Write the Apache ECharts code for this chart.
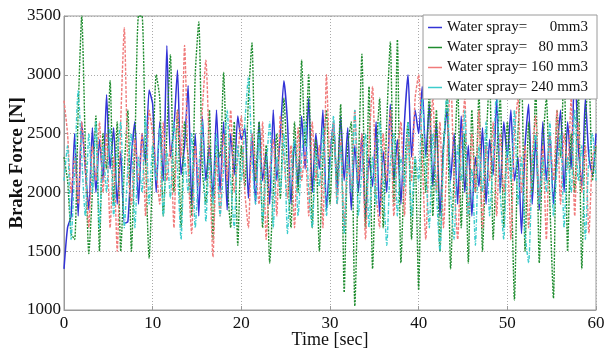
<!DOCTYPE html>
<html>
<head>
<meta charset="utf-8">
<script src="https://cdn.jsdelivr.net/npm/echarts@6/dist/echarts.min.js"></script>
<style>html,body{margin:0;padding:0;background:#fff}#c{width:605px;height:351px}</style>
</head>
<body>
<div id="c"></div>
<script>
const seriesNames = ['Water spray=      0mm3', 'Water spray=   80 mm3', 'Water spray= 160 mm3', 'Water spray= 240 mm3'];
const xTicks = [0, 10, 20, 30, 40, 50, 60];
const yTicks = [1000, 1500, 2000, 2500, 3000, 3500];
const sampleStep = 0.4;

const spray0 = [1350,1700,1800,2500,1800,2600,2200,1850,2550,2000,2450,2100,2830,2200,2550,1900,2350,1740,1750,2300,2600,1900,2500,2250,2870,
2750,2000,2600,2100,3250,2300,2550,3040,2150,2400,2910,1900,2500,1800,2650,2100,2400,1950,2700,2000,2600,1850,2500,2150,2650,
2450,2550,1950,2500,1900,2600,2100,2350,1900,2700,2100,2500,2950,2600,1900,2450,2050,2650,2200,2800,2000,2500,2200,2700,1850,
2300,2600,2000,2650,2100,2550,1850,2400,2000,2500,1750,2300,2050,2600,1800,2350,2000,2750,2100,2450,1900,2600,3000,2300,2700,
2500,2900,2300,2750,2050,2600,1800,2400,2700,2100,2500,1900,2650,2000,2400,1800,2300,2050,2550,1900,2450,2150,2800,2000,2600,
2300,2700,2100,2300,1650,2400,2750,1900,2450,1850,2600,2100,2500,1900,2350,2700,2000,2600,2200,3100,2400,2050,2800,2300,2150,
2500];

const spray80 = [2300,2100,1650,1600,2700,3500,2400,1480,2000,2650,1500,2500,2200,2950,1900,2600,1500,2200,2700,1500,2400,3500,3500,2300,1440,
2200,3000,2800,1800,2500,3170,2000,2700,1700,2600,2300,1800,3000,3450,2200,1900,2700,1600,2400,2300,3020,2100,1700,2600,1550,
2400,2050,2800,3270,2100,2600,1700,2400,1400,2000,2500,1950,2800,2200,1700,2600,2000,3125,2400,3000,1700,2450,1500,2300,2700,
1900,2500,2100,2750,1150,2400,2600,1035,2200,3175,1700,2900,1350,2300,2800,1700,2600,3280,1900,3300,1400,2200,2600,1600,2300,
1170,2500,2000,2900,1800,2700,1500,2400,2800,1350,2200,2900,1700,2500,1400,2700,2000,2850,1500,2400,3000,1600,2300,2800,1700,
2600,2200,1085,2500,3000,1500,2600,2000,2900,1400,2400,2800,1900,1100,2700,2300,3100,1500,2500,2000,2900,1350,2600,3000,2100,
2400];

const spray160 = [2780,2500,2000,2300,1900,2600,2200,1700,2400,2100,2600,2000,2500,1700,2300,1500,2600,3400,2200,1900,2450,2100,2500,1800,2700,
2500,2200,1900,2600,2100,2400,1700,2700,2300,3250,2200,1650,2400,2050,2700,3125,2300,1450,2300,1800,2500,2100,2700,2000,2300,
2650,2000,1700,2500,2200,1900,2600,1600,2200,2450,1800,2650,2300,1950,2400,1700,2550,2100,2350,1800,2600,2100,2400,1700,3000,
2300,2600,1900,2450,1700,2300,2000,2700,2100,2500,1600,2400,2900,2000,1700,2500,2100,2700,1800,2300,2600,1800,2500,2100,2800,
3000,2300,1600,2400,2800,2000,2600,1700,2300,3000,2100,1600,2400,2800,1800,2500,2000,2700,1700,2400,2100,2600,1800,2500,2000,
2300,1600,2500,2800,2000,2400,1700,2300,2650,1900,2400,1600,2500,2100,2700,1900,2500,2200,2800,1800,2600,2000,2400,1650,2300,
2400];

const spray240 = [2100,2400,1600,2200,2870,2300,1800,2500,2000,2600,1700,2400,2000,2550,1800,2300,2600,1700,2200,2500,1700,2300,2000,2650,1900,
2400,2100,2550,1800,2350,1950,2600,2200,1600,2300,2000,2500,1700,2200,2600,1750,2300,1900,2500,1800,2200,2700,2100,1700,2400,
2100,2600,2980,2300,1900,2500,1750,2200,2600,1700,2300,2000,2500,1650,2200,2450,1800,2300,2600,2000,1700,2350,2050,2550,1800,
2200,2650,1900,2400,1650,2300,2000,2700,1800,2200,2500,1700,2300,1900,2600,2100,1550,2250,2500,1800,2300,2050,2600,1800,2300,
2100,2800,2200,1700,2500,2000,1500,2300,2900,2000,1600,2400,2100,2700,1800,2200,1550,2400,2000,2600,1800,2300,2900,2000,1600,
2400,2100,2700,1900,2300,1650,1400,2200,2500,1900,2300,2000,2600,1800,2200,2500,1700,2300,2000,2700,2100,2400,1600,2300,2500,
2100];

const colors = ['#3333d6', '#1e8c2e', '#f07a7a', '#3ccccc'];
const dashes = ['solid', [2, 1.2], [3, 1.5], [4, 1.5, 1, 1.5]];

function pairs(vals) {
  return vals.map((v, i) => [Math.round(i * sampleStep * 10) / 10, v]);
}
const allVals = [spray0, spray80, spray160, spray240];

const serif = "'Liberation Serif','Times New Roman',serif";
const chart = echarts.init(document.getElementById('c'), null, {renderer: 'canvas'});
chart.setOption({
  animation: false,
  backgroundColor: '#fff',
  grid: {left: 64, right: 9, top: 16, bottom: 41, show: true, borderColor: '#9a9a9a', borderWidth: 1, containLabel: false, outerBoundsMode: 'none'},
  legend: {
    show: true,
    orient: 'vertical', right: 8, top: 15,
    backgroundColor: '#fff', borderColor: '#9a9a9a', borderWidth: 1,
    padding: [4, 9, 3, 5], itemGap: 3, itemWidth: 14, itemHeight: 1.5,
    icon: 'rect',
    textStyle: {fontFamily: serif, fontSize: 15, color: '#111', lineHeight: 17},
    data: seriesNames,
    z: 10
  },
  xAxis: {
    type: 'value', min: xTicks[0], max: xTicks[xTicks.length - 1], interval: 10,
    name: 'Time [sec]', nameLocation: 'middle', nameGap: 21, nameMoveOverlap: false,
    nameTextStyle: {fontFamily: serif, fontSize: 18, color: '#111'},
    axisLine: {show: true, lineStyle: {color: '#9a9a9a'}},
    axisTick: {show: true, inside: true, length: 4, lineStyle: {color: '#9a9a9a'}},
    axisLabel: {fontFamily: serif, fontSize: 17, color: '#111', margin: 5},
    splitLine: {show: true, lineStyle: {color: '#aaa', type: [1, 2]}}
  },
  yAxis: {
    type: 'value', min: yTicks[0], max: yTicks[yTicks.length - 1], interval: 500,
    name: 'Brake Force [N]', nameLocation: 'middle', nameGap: 37, nameMoveOverlap: false,
    nameTextStyle: {fontFamily: serif, fontSize: 19, fontWeight: 'bold', color: '#111'},
    axisLine: {show: true, lineStyle: {color: '#9a9a9a'}},
    axisTick: {show: true, inside: true, length: 4, lineStyle: {color: '#9a9a9a'}},
    axisLabel: {fontFamily: serif, fontSize: 17, color: '#111', margin: 3, formatter: v => String(v)},
    splitLine: {show: true, lineStyle: {color: '#aaa', type: [1, 2]}}
  },
  series: allVals.map((vals, k) => ({
    name: seriesNames[k], type: 'line', data: pairs(vals),
    symbol: 'none', smooth: 0.2, clip: true,
    lineStyle: {color: colors[k], width: k === 0 ? 1.5 : 1.4, type: dashes[k]},
    itemStyle: {color: colors[k]}
  }))
});
</script>
</body>
</html>
